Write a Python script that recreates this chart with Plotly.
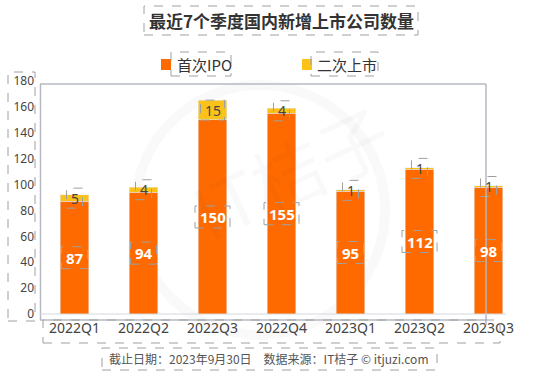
import plotly.graph_objects as go

categories = ["2022Q1", "2022Q2", "2022Q3", "2022Q4", "2023Q1", "2023Q2", "2023Q3"]
ipo = [87, 94, 150, 155, 95, 112, 98]
secondary = [5, 4, 15, 4, 1, 1, 1]
y_ticks = [0, 20, 40, 60, 80, 100, 120, 140, 160, 180]

title_text = "最近7个季度国内新增上市公司数量"
legend_names = ["首次IPO", "二次上市"]
footer_text = "截止日期：2023年9月30日　数据来源：IT桔子 © itjuzi.com"

ORANGE = "#FF6A00"
YELLOW = "#FBC21A"
FONT = "Noto Sans, Noto Sans CJK SC, sans-serif"
CJK = "Noto Sans CJK SC, Noto Sans, sans-serif"

W, H = 543, 381
L, R, T, B = 40, 20, 81, 67
PW, PH = W - L - R, H - T - B


def px(x):
    return (x - L) / PW


def py(y):
    return (H - B - y) / PH


fig = go.Figure()
fig.add_trace(go.Bar(x=categories, y=ipo, name=legend_names[0], marker_color=ORANGE,
                     width=0.41, showlegend=False, hoverinfo="skip"))
fig.add_trace(go.Bar(x=categories, y=secondary, name=legend_names[1], marker_color=YELLOW,
                     width=0.41, showlegend=False, hoverinfo="skip"))

shapes = []
annotations = []
dash = dict(color="#A0A0A0", width=1, dash="dash")


def note(x, y, text, font, xanchor="center", xref="paper", yref="paper", **kw):
    annotations.append(dict(x=x, y=y, xref=xref, yref=yref, text=text, showarrow=False,
                            xanchor=xanchor, yanchor="middle", font=font, **kw))


# value labels + dashed boxes
for i, (a, b) in enumerate(zip(ipo, secondary)):
    note(i, a / 2, f"<b>{a}</b>", dict(family=FONT, size=15, color="white"), xref="x", yref="y")
    wa = 9 * len(str(a)) + 8
    shapes.append(dict(type="rect", xref="x", yref="y", xsizemode="pixel", ysizemode="pixel",
                       xanchor=i, yanchor=a / 2, x0=-wa / 2, x1=wa / 2, y0=-11, y1=11,
                       line=dash, layer="above"))
    note(i, a + b / 2, str(b), dict(family=FONT, size=14, color="#444"), xref="x", yref="y")
    wb = 8 * len(str(b)) + 8
    shapes.append(dict(type="rect", xref="x", yref="y", xsizemode="pixel", ysizemode="pixel",
                       xanchor=i, yanchor=a + b / 2, x0=-wb / 2, x1=wb / 2, y0=-10, y1=10,
                       line=dash, layer="above"))

# watermark
shapes.append(dict(type="circle", xref="paper", yref="paper", x0=px(135), x1=px(385),
                   y0=py(335), y1=py(85), line=dict(color="rgba(0,0,0,0.022)", width=10),
                   layer="below"))
note(px(290), py(170), "IT桔子", dict(family=CJK, size=72, color="rgba(0,0,0,0.022)"),
     textangle=-25)
note(px(265), py(250), "JUZI.COM", dict(family=FONT, size=34, color="rgba(0,0,0,0.022)"),
     textangle=-25)

# frame
frame = dict(color="#B4B8C0", width=1.5)
shapes.append(dict(type="line", xref="paper", yref="paper", x0=px(40.5), x1=px(40.5),
                   y0=py(320), y1=py(84), line=frame))
shapes.append(dict(type="line", xref="paper", yref="paper", x0=px(40), x1=px(486),
                   y0=py(84), y1=py(84), line=frame))
shapes.append(dict(type="line", xref="paper", yref="paper", x0=px(486), x1=px(486),
                   y0=py(325), y1=py(84), line=frame))
shapes.append(dict(type="line", xref="paper", yref="paper", x0=px(40), x1=px(486),
                   y0=py(320), y1=py(320), line=frame))
shapes.append(dict(type="line", xref="paper", yref="paper", x0=px(40), x1=px(506),
                   y0=0, y1=0, line=dict(color="#D6D8DC", width=1)))

# title
note(px(281), py(21), f"<b>{title_text}</b>", dict(family=CJK, size=17, color="#333"))
shapes.append(dict(type="rect", xref="paper", yref="paper", x0=px(144), x1=px(418),
                   y0=py(35), y1=py(6), line=dash))

# legend
for name, color, sx, tx, bx1 in [(legend_names[0], ORANGE, 161, 175, 231),
                                 (legend_names[1], YELLOW, 302, 315, 378)]:
    shapes.append(dict(type="rect", xref="paper", yref="paper", x0=px(sx), x1=px(sx + 10),
                       y0=py(70), y1=py(59), fillcolor=color, line=dict(width=0)))
    note(px(tx), py(64), name, dict(family=CJK, size=15, color="#333"), xanchor="left")
    shapes.append(dict(type="rect", xref="paper", yref="paper", x0=px(tx - 4), x1=px(bx1),
                       y0=py(76), y1=py(52), line=dash))

# axis label boxes
shapes.append(dict(type="rect", xref="paper", yref="paper", x0=px(8), x1=px(35),
                   y0=py(321), y1=py(72), line=dash))
shapes.append(dict(type="rect", xref="paper", yref="paper", x0=px(43), x1=px(500),
                   y0=py(343), y1=py(320), line=dash))

# footer
note(px(269), py(358), footer_text, dict(family=CJK, size=12, color="#555"))
shapes.append(dict(type="rect", xref="paper", yref="paper", x0=px(102), x1=px(437),
                   y0=py(370), y1=py(348), line=dash))

fig.update_layout(
    barmode="stack",
    width=W, height=H,
    margin=dict(l=L, r=R, t=T, b=B, autoexpand=False),
    paper_bgcolor="white", plot_bgcolor="white",
    showlegend=False, hovermode=False,
    shapes=shapes, annotations=annotations,
    xaxis=dict(type="category", showgrid=False, showline=False, ticks="", automargin=False,
               tickfont=dict(family=FONT, size=14, color="#444"), ticklabelstandoff=4),
    yaxis=dict(range=[0, 180], tickvals=y_ticks, showgrid=False, zeroline=False, automargin=False,
               showline=False, ticks="", ticklabelstandoff=5,
               tickfont=dict(family=FONT, size=12, color="#444")),
)

fig.write_html("out.html", config={"displayModeBar": False},
               post_script="document.body.style.margin='0';document.body.style.overflow='hidden';")
